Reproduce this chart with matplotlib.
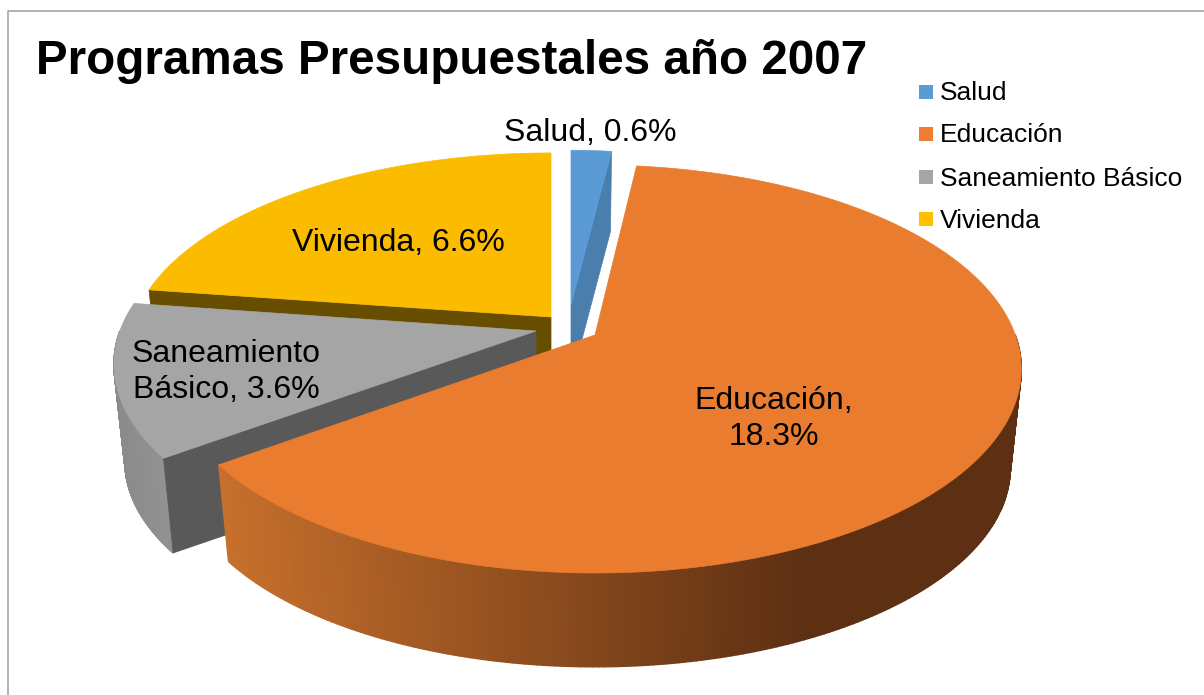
import numpy as np
import matplotlib
matplotlib.use("Agg")
import matplotlib.pyplot as plt
from matplotlib.collections import PolyCollection
from matplotlib.colors import to_rgb
from matplotlib.patches import Polygon, Rectangle

plt.rcParams['font.family'] = ['Liberation Sans', 'DejaVu Sans']

# -----------------------------
# Data
# -----------------------------
title = "Programas Presupuestales año 2007"
categories = ["Salud", "Educación", "Saneamiento Básico", "Vivienda"]
values = [0.6, 18.3, 3.6, 6.6]

# -----------------------------
# Style and layout (pixels)
# -----------------------------
top_colors = ["#5b9bd5", "#ea7c30", "#a5a5a5", "#fbbc00"]
apex_x = [571, 595, 536, 551]
apex_y = [305, 335, 331, 317]
squash_x = [0.87, 1.0, 0.99, 0.99]
squash_y = [0.91, 1.0, 0.98, 0.965]
thickness = [76, 100, 98, 98]

DEPTH = 6.0
FOCAL_X = 2522
FOCAL_Y = 1190
BOTTOM_SCALE = 0.974
EDU_TRIM = 0.8  # first edge of the big slice sits a bit closer to the top


def project(theta, i, bottom=False):
    # theta in degrees, clockwise from the back of the pie
    t = np.radians(theta)
    w = DEPTH + np.cos(t)
    scale = BOTTOM_SCALE if bottom else 1.0
    x = apex_x[i] + scale * squash_x[i] * FOCAL_X * np.sin(t) / w
    y = apex_y[i] - scale * squash_y[i] * FOCAL_Y * np.cos(t) / w
    if bottom:
        y = y + thickness[i]
    return x, y


def arc(theta1, theta2, i, bottom=False):
    th = np.linspace(theta1, theta2, 200)
    return np.column_stack(project(th, i, bottom))


def apex(i, bottom=False):
    if bottom:
        return (apex_x[i], apex_y[i] + thickness[i])
    return (apex_x[i], apex_y[i])


def top_face(ax, theta1, theta2, i, z):
    pts = np.vstack([[apex(i)], arc(theta1, theta2, i)])
    ax.add_patch(Polygon(pts, closed=True, fc=top_colors[i], ec=top_colors[i], lw=0.5, zorder=z))


def cut_face(ax, theta, i, color, z):
    x0, y0 = project(theta, i)
    x1, y1 = project(theta, i, True)
    pts = [(x0, y0), apex(i), apex(i, True), (x1, y1)]
    ax.add_patch(Polygon(pts, closed=True, fc=color, ec=color, lw=0.5, zorder=z))


def outer_wall(ax, theta1, theta2, i, x_left, x_right, c_left, c_right, z):
    # wall made of thin quads, shaded along the screen x
    th = np.linspace(theta1, theta2, 200)
    xt, yt = project(th, i)
    xb, yb = project(th, i, True)
    quads = []
    cols = []
    c0 = np.array(to_rgb(c_left))
    c1 = np.array(to_rgb(c_right))
    for k in range(len(th) - 1):
        quads.append([(xt[k], yt[k]), (xt[k + 1], yt[k + 1]), (xb[k + 1], yb[k + 1]), (xb[k], yb[k])])
        f = np.clip(((xt[k] + xb[k]) / 2 - x_left) / (x_right - x_left), 0, 1)
        cols.append(c0 + (c1 - c0) * f)
    ax.add_collection(PolyCollection(quads, facecolors=cols, edgecolors=cols, linewidths=1.0, zorder=z))


# -----------------------------
# Figure
# -----------------------------
fig = plt.figure(figsize=(12.04, 6.95), dpi=100)
ax = fig.add_axes([0, 0, 1, 1])
ax.set_xlim(0, 1204)
ax.set_ylim(695, 0)
ax.axis("off")

# chart frame
ax.plot([7.5, 7.5, 1204], [695, 10.5, 10.5], color="#a6a6a6", lw=1.2, zorder=1)

# slice angles from the values
fractions = np.array(values) / sum(values)
ends = np.cumsum(fractions) * 360
starts = np.concatenate([[0], ends[:-1]])

# Vivienda
cut_face(ax, starts[3], 3, "#664d00", 2)
top_face(ax, starts[3], ends[3], 3, 3)

# Salud
cut_face(ax, ends[0], 0, "#4a7eac", 2)
top_face(ax, starts[0], ends[0], 0, 3)

# Saneamiento
outer_wall(ax, starts[2], 270, 2, 112, 170, "#8a8a8a", "#929292", 4)
cut_face(ax, starts[2], 2, "#595959", 5)
top_face(ax, starts[2], ends[2], 2, 6)

# Educacion
outer_wall(ax, 90, ends[1], 1, 800, 222, "#5e3013", "#c8702c", 7)
top_face(ax, starts[1] - EDU_TRIM, ends[1], 1, 8)

# data labels
label_size = 23
spacing = 1.24
ax.text(590, 133, f"{categories[0]}, {values[0]}%", ha="center", va="center", fontsize=label_size, zorder=10)
ax.text(774, 419, f"Educación,\n{values[1]}%", ha="center", va="center", fontsize=label_size, linespacing=spacing, zorder=10)
ax.text(226, 372, f"Saneamiento\nBásico, {values[2]}%", ha="center", va="center", fontsize=label_size, linespacing=spacing, zorder=10)
ax.text(398, 243, f"{categories[3]}, {values[3]}%", ha="center", va="center", fontsize=label_size, zorder=10)

# title
ax.text(36, 62, title, ha="left", va="center", fontsize=34.3, fontweight="bold", zorder=10)

# legend
legend_y = [92, 134, 177, 219]
legend_colors = ["#5b9bd5", "#ed7d31", "#a5a5a5", "#ffc000"]
for name, y, c in zip(categories, legend_y, legend_colors):
    ax.add_patch(Rectangle((919, y - 7), 14, 14, fc=c, ec="none", zorder=10))
    ax.text(939.5, y + 1.5, name, ha="left", va="center", fontsize=19, zorder=10)

fig.savefig("out.png", dpi=100)
